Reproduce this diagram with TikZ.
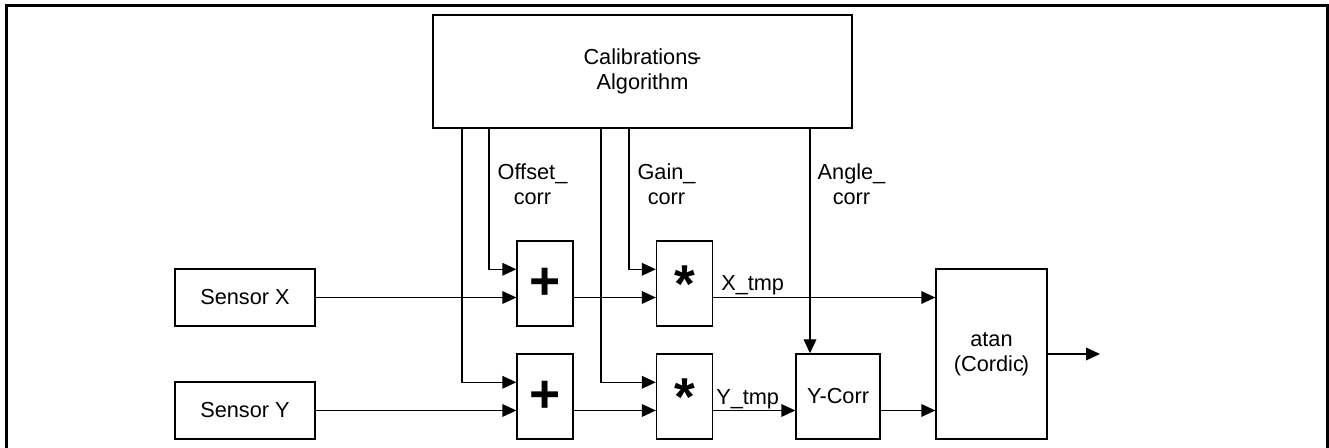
\documentclass[tikz,border=0pt]{standalone}
\usepackage{fontspec}
\setmainfont{Liberation Sans}
\usetikzlibrary{arrows.meta}
\begin{document}
\begin{tikzpicture}[x=0.75pt,y=-0.75pt,
  blk/.style={draw, line width=1pt, inner sep=0pt, font=\fontsize{16.3}{19}\selectfont, align=center},
  opblk/.style={blk, minimum width=42pt, minimum height=63.75pt, font=\fontsize{40}{40}\selectfont},
  wire/.style={line width=1pt, -{Triangle[length=10.5pt,width=9.5pt]}},
  lbl/.style={font=\fontsize{16.3}{19}\selectfont, align=center, inner sep=0pt}]
\useasboundingbox (0,0) rectangle (1329,448);
\begin{scope}
\clip (0,0) rectangle (1329,448);
\draw[line width=2.25pt] (6,470) -- (6,6) -- (1327,6) -- (1327,470);
\end{scope}
% blocks
\node[blk, minimum width=314.25pt, minimum height=84.75pt] (calib) at (642.5,71.5) {Calibrations\kern-3pt-\\Algorithm};
\node[blk, minimum width=105pt, minimum height=42.75pt] (sx) at (245,297.5) {Sensor X};
\node[blk, minimum width=105pt, minimum height=42.75pt] (sy) at (245,410.5) {Sensor Y};
\node[opblk] (plus1) at (545,283.5) {\bfseries +};
\node[opblk] (plus2) at (545,396.5) {\bfseries +};
\node[opblk] (star1) at (684.5,283.5) {\smash{\raisebox{-13.9pt}{\bfseries *}}};
\node[opblk] (star2) at (684.5,396.5) {\smash{\raisebox{-13.9pt}{\bfseries *}}};
\node[blk, minimum width=63pt, minimum height=63.75pt] (ycorr) at (838,396.5) {Y-Corr};
\node[blk, minimum width=83.25pt, minimum height=127.5pt] (atan) at (991.5,354) {atan\\(Cordic\kern-1.5pt)};
% labels
\node[lbl] (loff) at (532.5,184) {Offset\_\\corr};
\node[lbl] (lgain) at (666.5,184) {Gain\_\\corr};
\node[lbl] (lang) at (851.5,184) {Angle\_\\corr};
\node[lbl, anchor=base west] (lx) at (721,290.5) {X\_tmp};
\node[lbl, anchor=base west] (ly) at (716,404.5) {Y\_tmp};
% wires
\draw[wire] (calib.south -| 489,0) |- (plus1.west |- 0,269.3);
\draw[wire] (calib.south -| 462,0) |- (plus2.west |- 0,382.3);
\draw[wire] (calib.south -| 629,0) |- (star1.west |- 0,269.3);
\draw[wire] (calib.south -| 601,0) |- (star2.west |- 0,382.3);
\draw[wire] (calib.south -| 810,0) -- (ycorr.north -| 810,0);
\draw[wire] (sx.east) -- (plus1.west |- sx.east);
\draw[wire] (sy.east) -- (plus2.west |- sy.east);
\draw[wire] (plus1.east |- sx.east) -- (star1.west |- sx.east);
\draw[wire] (plus2.east |- sy.east) -- (star2.west |- sy.east);
\draw[wire] (star1.east |- sx.east) -- (atan.west |- sx.east);
\draw[wire] (star2.east |- sy.east) -- (ycorr.west |- sy.east);
\draw[wire] (ycorr.east |- sy.east) -- (atan.west |- sy.east);
\coordinate (out) at (1100,354);
\draw[wire] (atan.east) -- (out);
\end{tikzpicture}
\end{document}
